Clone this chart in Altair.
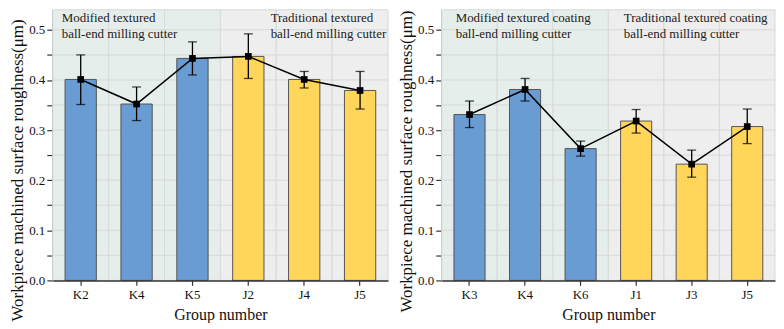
import altair as alt
import pandas as pd

# ---- data ----
left_groups = ["K2", "K4", "K5", "J2", "J4", "J5"]
left_values = [0.401, 0.352, 0.443, 0.447, 0.401, 0.379]
left_upper = [0.450, 0.386, 0.476, 0.492, 0.417, 0.417]
left_lower = [0.351, 0.319, 0.410, 0.403, 0.384, 0.342]

right_groups = ["K3", "K4", "K6", "J1", "J3", "J5"]
right_values = [0.331, 0.381, 0.263, 0.318, 0.232, 0.307]
right_upper = [0.358, 0.403, 0.278, 0.341, 0.260, 0.342]
right_lower = [0.305, 0.358, 0.248, 0.294, 0.206, 0.273]

types = ["Modified", "Modified", "Modified", "Traditional", "Traditional", "Traditional"]

left_notes = [["Modified textured", "ball-end milling cutter"],
              ["Traditional textured", "ball-end milling cutter"]]
right_notes = [["Modified textured coating", "ball-end milling cutter"],
               ["Traditional textured coating", "ball-end milling cutter"]]

y_ticks = [0.0, 0.05, 0.1, 0.15, 0.2, 0.25, 0.3, 0.35, 0.4, 0.45, 0.5]
grid_values = [0.05, 0.1, 0.15, 0.2, 0.25, 0.3, 0.35, 0.4, 0.45, 0.5]

FONT = "'Liberation Serif', 'Times New Roman', serif"
GREEN_BG = "#E5EEEA"
GRAY_BG = "#EEEEEE"
GRID = "#D6DAD8"
BLUE = "#689CD2"
YELLOW = "#FFD65A"
H = 272


def panel(groups, values, upper, lower, notes, width, note_x, title_y):
    df = pd.DataFrame({"group": groups, "value": values, "upper": upper,
                       "lower": lower, "type": types})
    xs = alt.Scale(domain=groups, paddingInner=0, paddingOuter=0)
    x_axis = alt.Axis(title="Group number", labelAngle=0, ticks=True, tickSize=5,
                      labelPadding=3, titlePadding=5, titleFontSize=16,
                      domainColor="#333333", domainWidth=1.5, tickColor="#333333",
                      tickWidth=1.2, grid=False)
    x_enc = alt.X("group:N", sort=groups, scale=xs, axis=x_axis)
    ys = alt.Scale(domain=[0, 0.54], nice=False, zero=True)
    y_axis = alt.Axis(title="Workpiece machined surface roughness(μm)",
                      values=y_ticks, grid=False, tickSize=6, labelPadding=2,
                      titlePadding=2, titleY=title_y, titleFontSize=17,
                      labelExpr="(round(datum.value*100) % 10 == 0) ? format(datum.value, '.1f') : ''",
                      domainColor="#333333", domainWidth=1.5, tickColor="#333333",
                      tickWidth=1.2)

    def Y(field):
        return alt.Y(f"{field}:Q", scale=ys, axis=y_axis)

    base = alt.Chart(df)
    bg = base.mark_rect(stroke=GRID, strokeWidth=1).encode(
        x=x_enc,
        fill=alt.Fill("type:N", scale=alt.Scale(domain=["Modified", "Traditional"],
                                                range=[GREEN_BG, GRAY_BG]), legend=None))
    grid = alt.Chart(pd.DataFrame({"value": grid_values})).mark_rule(
        color=GRID, strokeWidth=1).encode(y=Y("value"))
    bars = base.mark_bar(width=alt.RelativeBandSize(0.56), stroke="#555555",
                         strokeWidth=1).encode(
        x=x_enc, y=Y("value"),
        color=alt.Color("type:N", scale=alt.Scale(domain=["Modified", "Traditional"],
                                                  range=[BLUE, YELLOW]), legend=None))
    err = base.mark_rule(color="black", strokeWidth=1.3).encode(
        x=x_enc, y=Y("lower"), y2="upper")
    cap_hi = base.mark_tick(color="black", thickness=1.3, size=9).encode(
        x=x_enc, y=Y("upper"))
    cap_lo = base.mark_tick(color="black", thickness=1.3, size=9).encode(
        x=x_enc, y=Y("lower"))
    line = base.mark_line(color="black", strokeWidth=1.5).encode(
        x=x_enc, y=Y("value"))
    pts = base.mark_point(shape="square", filled=True, size=45, color="black",
                          opacity=1).encode(x=x_enc, y=Y("value"))
    one = pd.DataFrame({"k": [0]})
    texts = []
    for lines, nx in zip(notes, note_x):
        texts.append(alt.Chart(one).mark_text(
            text=lines, align="left", baseline="alphabetic", font=FONT,
            fontSize=13, lineHeight=16, color="#222222").encode(
            x=alt.value(nx), y=alt.value(12)))
    layer = alt.layer(bg, grid, bars, err, cap_hi, cap_lo, line, pts, *texts)
    return layer.properties(width=width, height=H)


left = panel(left_groups, left_values, left_upper, left_lower, left_notes,
             337, [9, 219], 161)
right = panel(right_groups, right_values, right_upper, right_lower, right_notes,
              335, [14, 183], 152)

chart = alt.hconcat(left, right, spacing=8).configure_view(stroke=None).configure_axis(
    labelFont=FONT, titleFont=FONT, labelFontSize=13,
    labelColor="#111111", titleColor="#111111", titleFontWeight="normal"
).configure_text(font=FONT).properties(padding=0)

chart.save("out.html", embed_options={"renderer": "svg", "actions": False})
